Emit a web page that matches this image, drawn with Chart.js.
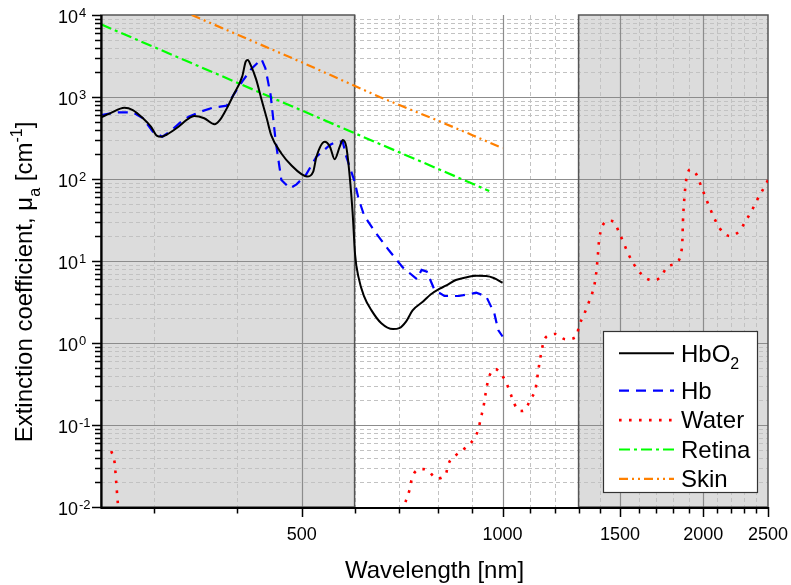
<!DOCTYPE html>
<html>
<head>
<meta charset="utf-8">
<script src="https://cdn.jsdelivr.net/npm/chart.js@4.4.1/dist/chart.umd.min.js"></script>
<style>
  html, body { margin: 0; padding: 0; background: #ffffff; }
  #wrap { width: 791px; height: 585px; position: relative; }
</style>
</head>
<body>
<div id="wrap"><canvas id="chart"></canvas></div>
<script>
// donnees (longueur d'onde en nm, mu_a en cm-1)
const hbo2Wl = [250, 258, 271, 279, 289, 297, 303, 308, 313, 327, 336, 345, 357, 370, 377, 386, 395,
  407, 412, 415, 419, 427, 435, 443, 450, 466, 483, 500, 509, 520, 526, 541, 551, 560, 570, 576,
  583, 590, 596, 601, 608, 620, 636, 658, 685, 700, 717, 733, 760, 780, 805, 822, 851, 880, 915,
  945, 970, 1000];
const hbo2Mu = [565, 632, 741, 694, 550, 436, 338, 328, 344, 436, 525, 587, 550, 465, 525, 727, 1060,
  1770, 2700, 2830, 2460, 1650, 940, 550, 340, 205, 145, 114, 107, 122, 187, 285, 248, 174, 248, 299,
  248, 107, 38, 12, 6.4, 3.7, 2.5, 1.74, 1.48, 1.52, 1.84, 2.5, 3.2, 3.9, 4.6, 5.0, 5.86, 6.3, 6.6,
  6.55, 6.2, 5.43];

const hbWl = [250, 265, 279, 289, 299, 309, 317, 332, 339, 352, 368, 386, 395, 407, 420, 435, 441,
  449, 457, 466, 480, 491, 507, 526, 551, 563, 576, 582, 600, 608, 620, 643, 675, 708, 744, 756,
  770, 790, 818, 860, 913, 945, 972, 985, 1000];
const hbMu = [603, 650, 650, 550, 378, 328, 378, 525, 577, 660, 741, 785, 1060, 1540, 2200, 2900, 2240,
  1060, 285, 97, 77, 86, 112, 187, 260, 285, 285, 196, 93, 58, 36, 23, 13.6, 8.4, 6.0, 7.8,
  7.4, 4.5, 3.74, 3.74, 4.1, 3.7, 2.3, 1.44, 1.2];

const waterWl = [259, 262, 263.5, 265, 268, 330, 450, 600, 700, 717, 725, 731, 744, 760, 772, 797, 822,
  829, 849, 878, 906, 920, 928, 936, 947, 955, 968, 976, 990, 1005, 1021, 1035, 1051, 1065, 1080,
  1101, 1120, 1132, 1139, 1146, 1158, 1180, 1199, 1243, 1290, 1303, 1322, 1340, 1360, 1373, 1381,
  1386, 1390, 1394, 1402, 1423, 1445, 1468, 1494, 1518, 1543, 1570, 1610, 1670, 1700, 1731, 1765,
  1825, 1853, 1860, 1864, 1872, 1886, 1913, 1935, 1958, 1986, 2013, 2043, 2075, 2113, 2189, 2264,
  2313, 2363, 2405, 2454, 2500];
const waterMu = [0.048, 0.035, 0.02, 0.011, 0.006, 0.0008, 0.0002, 0.002, 0.007, 0.0122, 0.016, 0.022,
  0.028, 0.029, 0.028, 0.0223, 0.0251, 0.033, 0.042, 0.052, 0.068, 0.089, 0.123, 0.165, 0.295, 0.39,
  0.47, 0.48, 0.44, 0.37, 0.28, 0.207, 0.157, 0.148, 0.152, 0.207, 0.272, 0.48, 0.65, 0.86, 1.14,
  1.25, 1.29, 1.11, 1.19, 1.66, 2.13, 2.83, 3.85, 5.1, 6.9, 9.2, 12.2, 16.5, 22.4, 29.6, 31, 30,
  22.6, 16.8, 12.3, 9.4, 7.1, 5.86, 5.9, 6.57, 8.5, 9.6, 12.8, 17.1, 30.5, 55, 100, 131, 125, 109,
  80.7, 60.8, 45.2, 33.8, 25.4, 20.2, 23.1, 30.5, 41, 54.6, 73.3, 97];

const retinaWl = [250, 383, 400, 600, 654, 800, 955];
const retinaMu = [7690, 1738, 1493, 362, 268, 133, 71.4];

const skinWl = [342, 500, 654, 800, 903, 1000];
const skinMu = [10000, 2650, 1000, 515, 340, 237];

const seriesNames = ["HbO2", "Hb", "Water", "Retina", "Skin"];

// axes
const xLabelTicks = [500, 1000, 1500, 2000, 2500];
const xMinorTicks = [300, 400, 600, 700, 800, 900, 1100, 1200, 1300, 1400, 1600, 1700, 1800, 1900,
  2100, 2200, 2300, 2400];
const yDecades = [-2, -1, 0, 1, 2, 3, 4];
const shadedBands = [[250, 600], [1300, 2500]];

const FONT = '"Liberation Sans", Arial, sans-serif';

function toPoints(xs, ys) {
  return xs.map((x, i) => ({ x: x, y: ys[i] }));
}

// texte avec indices / exposants
function richWidth(ctx, parts, size) {
  let w = 0;
  parts.forEach((p) => {
    ctx.font = (p.m === "n" ? size : Math.round(size * 0.66)) + "px " + FONT;
    w += ctx.measureText(p.t).width;
  });
  return w;
}

function drawRich(ctx, parts, x, y, size) {
  let cx = x;
  parts.forEach((p) => {
    const s = p.m === "n" ? size : Math.round(size * 0.66);
    ctx.font = s + "px " + FONT;
    let dy = 0;
    if (p.m === "sub") dy = size * 0.33;
    if (p.m === "sup") dy = -size * 0.42;
    ctx.fillText(p.t, cx, y + dy);
    cx += ctx.measureText(p.t).width;
  });
}

const figurePlugin = {
  id: "figure",
  beforeDatasetsDraw(chart) {
    const { ctx, chartArea: a } = chart;
    const xs = chart.scales.x;
    const ys = chart.scales.y;
    ctx.save();

    // zones grisees
    ctx.fillStyle = "#dcdcdc";
    shadedBands.forEach((b) => {
      const x0 = xs.getPixelForValue(b[0]);
      const x1 = xs.getPixelForValue(b[1]);
      ctx.fillRect(x0, a.top, x1 - x0, a.bottom - a.top);
    });

    // grille secondaire en tirets
    ctx.lineWidth = 1;
    ctx.strokeStyle = "#c2c2c2";
    ctx.setLineDash([4, 3]);
    ctx.beginPath();
    xMinorTicks.forEach((v) => {
      const px = Math.round(xs.getPixelForValue(v)) + 0.5;
      ctx.moveTo(px, a.top);
      ctx.lineTo(px, a.bottom);
    });
    yDecades.slice(0, -1).forEach((e) => {
      for (let m = 2; m <= 9; m++) {
        const py = Math.round(ys.getPixelForValue(m * Math.pow(10, e))) + 0.5;
        ctx.moveTo(a.left, py);
        ctx.lineTo(a.right, py);
      }
    });
    ctx.stroke();

    // grille principale
    ctx.setLineDash([]);
    ctx.strokeStyle = "#8c8c8c";
    ctx.lineWidth = 1.2;
    ctx.beginPath();
    xLabelTicks.slice(0, -1).forEach((v) => {
      const px = Math.round(xs.getPixelForValue(v)) + 0.5;
      ctx.moveTo(px, a.top);
      ctx.lineTo(px, a.bottom);
    });
    yDecades.slice(1, -1).forEach((e) => {
      const py = Math.round(ys.getPixelForValue(Math.pow(10, e))) + 0.5;
      ctx.moveTo(a.left, py);
      ctx.lineTo(a.right, py);
    });
    ctx.stroke();

    // bords des zones
    ctx.strokeStyle = "#555555";
    ctx.lineWidth = 1.5;
    shadedBands.forEach((b) => {
      const x0 = xs.getPixelForValue(b[0]);
      const x1 = xs.getPixelForValue(b[1]);
      ctx.strokeRect(x0, a.top, x1 - x0, a.bottom - a.top);
    });
    ctx.restore();
  },

  afterDatasetsDraw(chart) {
    const { ctx, chartArea: a } = chart;
    const xs = chart.scales.x;
    const ys = chart.scales.y;
    ctx.save();

    // axes
    ctx.strokeStyle = "#000000";
    ctx.lineWidth = 2.2;
    ctx.beginPath();
    ctx.moveTo(a.left + 0.5, a.top);
    ctx.lineTo(a.left + 0.5, a.bottom + 1);
    ctx.lineTo(a.right + 1, a.bottom + 1);
    ctx.stroke();

    // graduations
    ctx.lineWidth = 1.5;
    ctx.beginPath();
    xMinorTicks.forEach((v) => {
      const px = Math.round(xs.getPixelForValue(v)) + 0.5;
      ctx.moveTo(px, a.bottom);
      ctx.lineTo(px, a.bottom + 6.5);
    });
    xLabelTicks.forEach((v) => {
      const px = Math.round(xs.getPixelForValue(v)) + 0.5;
      ctx.moveTo(px, a.bottom);
      ctx.lineTo(px, a.bottom + 10);
    });
    yDecades.forEach((e) => {
      const py = Math.round(ys.getPixelForValue(Math.pow(10, e))) + 0.5;
      ctx.moveTo(a.left, py);
      ctx.lineTo(a.left - 9, py);
      if (e < 4) {
        for (let m = 2; m <= 9; m++) {
          const pm = Math.round(ys.getPixelForValue(m * Math.pow(10, e))) + 0.5;
          ctx.moveTo(a.left, pm);
          ctx.lineTo(a.left - 6, pm);
        }
      }
    });
    ctx.stroke();

    // etiquettes
    ctx.fillStyle = "#000000";
    ctx.textBaseline = "alphabetic";
    ctx.font = "18px " + FONT;
    ctx.textAlign = "center";
    xLabelTicks.forEach((v) => {
      ctx.fillText(String(v), xs.getPixelForValue(v), a.bottom + 33);
    });
    yDecades.forEach((e) => {
      const py = ys.getPixelForValue(Math.pow(10, e));
      ctx.textAlign = "right";
      ctx.font = "18px " + FONT;
      ctx.fillText("10", a.left - 23, py + 7.5);
      ctx.textAlign = "left";
      ctx.font = "13px " + FONT;
      ctx.fillText(String(e), a.left - 22, py + 2);
    });

    // titres des axes
    ctx.textAlign = "center";
    ctx.font = "24px " + FONT;
    ctx.fillText("Wavelength [nm]", (a.left + a.right) / 2, 578);

    const yTitle = [
      { t: "Extinction coefficient, \u03bc", m: "n" },
      { t: "a", m: "sub" },
      { t: " [cm", m: "n" },
      { t: "-1", m: "sup" },
      { t: "]", m: "n" },
    ];
    ctx.textAlign = "left";
    const tw = richWidth(ctx, yTitle, 24);
    ctx.save();
    ctx.translate(32, 282);
    ctx.rotate(-Math.PI / 2);
    drawRich(ctx, yTitle, -tw / 2, 0, 24);
    ctx.restore();

    // legende
    ctx.fillStyle = "#ffffff";
    ctx.fillRect(603.5, 331.5, 154, 161);
    ctx.strokeStyle = "#333333";
    ctx.lineWidth = 1.2;
    ctx.strokeRect(603.5, 331.5, 154, 161);
    chart.data.datasets.forEach((ds, i) => {
      const base = i === 0 ? 361.5 : 399 + (i - 1) * 29.4;
      const ly = base - 8.3;
      ctx.strokeStyle = ds.borderColor;
      ctx.lineWidth = ds.borderWidth;
      ctx.setLineDash(ds.borderDash || []);
      ctx.beginPath();
      ctx.moveTo(619, ly);
      ctx.lineTo(674, ly);
      ctx.stroke();
      ctx.setLineDash([]);
      ctx.fillStyle = "#000000";
      const name = ds.label;
      const m = name.match(/^(.*?)(\d+)$/);
      const parts = m ? [{ t: m[1], m: "n" }, { t: m[2], m: "sub" }] : [{ t: name, m: "n" }];
      drawRich(ctx, parts, 681, base, 24);
    });

    ctx.restore();
  },
};

const ctx = document.getElementById("chart").getContext("2d");
const chart = new Chart(ctx, {
  type: "line",
  data: {
    datasets: [
      {
        label: seriesNames[0],
        data: toPoints(hbo2Wl, hbo2Mu),
        borderColor: "#000000",
        borderWidth: 2,
        borderDash: [],
        cubicInterpolationMode: "monotone",
      },
      {
        label: seriesNames[1],
        data: toPoints(hbWl, hbMu),
        borderColor: "#0000ff",
        borderWidth: 2.2,
        borderDash: [10, 7],
        tension: 0,
      },
      {
        label: seriesNames[2],
        data: toPoints(waterWl, waterMu),
        borderColor: "#ff0000",
        borderWidth: 2.6,
        borderDash: [2.6, 7.4],
        cubicInterpolationMode: "monotone",
      },
      {
        label: seriesNames[3],
        data: toPoints(retinaWl, retinaMu),
        borderColor: "#00ff00",
        borderWidth: 2.2,
        borderDash: [11, 4, 3, 4],
        tension: 0,
      },
      {
        label: seriesNames[4],
        data: toPoints(skinWl, skinMu),
        borderColor: "#ff8000",
        borderWidth: 2.2,
        borderDash: [9, 4, 2, 4, 2, 4],
        tension: 0,
      },
    ],
  },
  options: {
    responsive: true,
    maintainAspectRatio: false,
    animation: false,
    layout: { padding: { left: 0, top: 15, right: 23, bottom: 0 } },
    elements: { point: { radius: 0 }, line: { fill: false } },
    plugins: {
      legend: { display: false },
      tooltip: { enabled: false },
    },
    scales: {
      x: {
        type: "logarithmic",
        min: 250,
        max: 2500,
        grid: { display: false },
        border: { display: false },
        ticks: { display: false },
        afterFit: function (scale) {
          scale.height = 78;
        },
      },
      y: {
        type: "logarithmic",
        min: 0.01,
        max: 10000,
        grid: { display: false },
        border: { display: false },
        ticks: { display: false },
        afterFit: function (scale) {
          scale.width = 101;
        },
      },
    },
  },
  plugins: [figurePlugin],
});
</script>
</body>
</html>
